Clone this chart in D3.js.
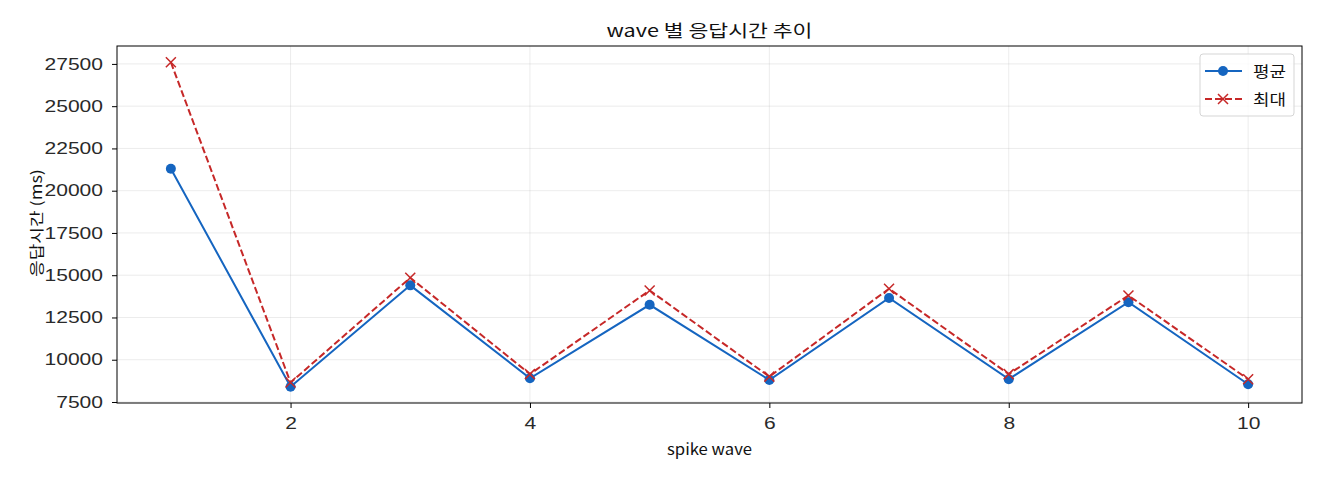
<!DOCTYPE html>
<html><head><meta charset="utf-8">
<script src="https://cdn.jsdelivr.net/npm/d3@7"></script>
<style>
body{margin:0;background:#fff;}
svg{display:block;font-family:"Noto Sans CJK KR","Noto Sans",sans-serif;}
</style></head>
<body>
<svg id="chart" width="1320" height="480"></svg>
<script>
const waves = [1,2,3,4,5,6,7,8,9,10];
const avgValues = [21300,8400,14400,8900,13250,8800,13650,8850,13400,8550];
const maxValues = [27600,8650,14850,9150,14100,9000,14200,9150,13800,8850];
const xTicks = [2,4,6,8,10];
const yTicks = [7500,10000,12500,15000,17500,20000,22500,25000,27500];
const seriesNames = ["평균","최대"];
const titleText = "wave 별 응답시간 추이";
const xLabel = "spike wave";
const yLabel = "응답시간 (ms)";

const svg = d3.select("#chart");
const L=117, R=1302, T=46, B=403;
const blue="#1565c0", red="#c62828";
const x = d3.scaleLinear().domain([0.55,10.45]).range([L,R]);
const allV = avgValues.concat(maxValues);
const ymin=d3.min(allV), ymax=d3.max(allV), pad=(ymax-ymin)*0.05;
const y = d3.scaleLinear().domain([ymin-pad,ymax+pad]).range([B,T]);

function widen(sel, w){
  sel.each(function(){
    const n=this; const target = typeof w==="function" ? w(n.textContent) : w;
    n.setAttribute("textLength", target);
    n.setAttribute("lengthAdjust","spacingAndGlyphs");
  });
}

// grid
const g = svg.append("g");
g.selectAll(".gx").data(xTicks).join("line")
 .attr("x1",d=>x(d)).attr("x2",d=>x(d)).attr("y1",T).attr("y2",B)
 .attr("stroke","#b0b0b0").attr("stroke-opacity",0.3).attr("stroke-width",0.8);
g.selectAll(".gy").data(yTicks).join("line")
 .attr("y1",d=>y(d)).attr("y2",d=>y(d)).attr("x1",L).attr("x2",R)
 .attr("stroke","#b0b0b0").attr("stroke-opacity",0.3).attr("stroke-width",0.8);

// axes
const xAxis = d3.axisBottom(x).tickValues(xTicks).tickSize(5).tickPadding(10);
const yAxis = d3.axisLeft(y).tickValues(yTicks).tickSize(5).tickPadding(9).tickFormat(d3.format("d"));
const gx = svg.append("g").attr("transform",`translate(0,${B})`).call(xAxis);
const gy = svg.append("g").attr("transform",`translate(${L},0)`).call(yAxis);
[gx,gy].forEach(a=>{
  a.select(".domain").remove();
  a.selectAll("line").attr("stroke","#000").attr("stroke-width",1);
  a.selectAll("text").attr("fill","#2a2a2a").style("font-size","16px").style("font-weight","300");
  widen(a.selectAll("text"), t=>11.7*t.length);
});
svg.append("rect").attr("x",L).attr("y",T).attr("width",R-L).attr("height",B-T)
 .attr("fill","none").attr("stroke","#000").attr("stroke-width",1);

// lines
const line = d3.line().x((d,i)=>x(waves[i])).y(d=>y(d));
svg.append("path").datum(avgValues).attr("d",line).attr("fill","none")
 .attr("stroke",blue).attr("stroke-width",2);
svg.append("path").datum(maxValues).attr("d",line).attr("fill","none")
 .attr("stroke",red).attr("stroke-width",2).attr("stroke-dasharray","7,3");
svg.selectAll(".dot").data(avgValues).join("circle")
 .attr("cx",(d,i)=>x(waves[i])).attr("cy",d=>y(d)).attr("r",5).attr("fill",blue);
const xs=5;
const cross = svg.append("g");
maxValues.forEach((d,i)=>{
  const cx=x(waves[i]), cy=y(d);
  cross.append("path").attr("d",`M${cx-xs},${cy-xs}L${cx+xs},${cy+xs}M${cx-xs},${cy+xs}L${cx+xs},${cy-xs}`)
   .attr("stroke",red).attr("stroke-width",1.5).attr("fill","none");
});

// title & labels
const tt = svg.append("text").attr("x",(L+R)/2).attr("y",37).attr("text-anchor","middle")
 .style("font-size","17px").attr("fill","#111").text(titleText);
widen(tt,206);
const xl = svg.append("text").attr("x",(L+R)/2).attr("y",455).attr("text-anchor","middle")
 .style("font-size","15px").attr("fill","#111").text(xLabel);
widen(xl,85);
const yl = svg.append("text").attr("transform",`translate(42,223) rotate(-90)`).attr("text-anchor","middle")
 .style("font-size","15px").attr("fill","#111").text(yLabel);
widen(yl,108);

// legend
const lg = svg.append("g");
lg.append("rect").attr("x",1200).attr("y",54).attr("width",94).attr("height",62).attr("rx",3)
 .attr("fill","#fff").attr("fill-opacity",0.8).attr("stroke","#d5d5d5");
[[blue,null,"circle"],[red,"7,3","cross"]].forEach((s,i)=>{
  const yy = 71 + i*28;
  lg.append("line").attr("x1",1205).attr("x2",1242).attr("y1",yy).attr("y2",yy)
   .attr("stroke",s[0]).attr("stroke-width",2).attr("stroke-dasharray",s[1]);
  if(s[2]==="circle") lg.append("circle").attr("cx",1223).attr("cy",yy).attr("r",5).attr("fill",s[0]);
  else lg.append("path").attr("d",`M${1223-xs},${yy-xs}L${1223+xs},${yy+xs}M${1223-xs},${yy+xs}L${1223+xs},${yy-xs}`)
   .attr("stroke",s[0]).attr("stroke-width",1.5);
  const lt = lg.append("text").attr("x",1253).attr("y",yy+6).style("font-size","15px").attr("fill","#111").text(seriesNames[i]);
  widen(lt,33);
});
</script>
</body></html>
